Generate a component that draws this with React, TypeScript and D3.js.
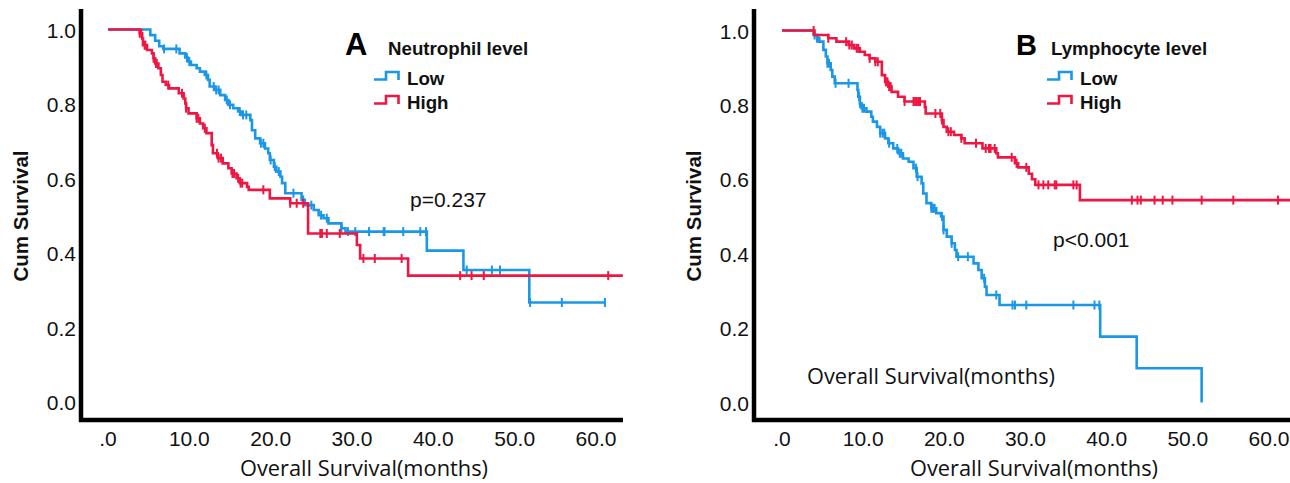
import React from "react";
import * as d3 from "d3";

// ---------- DATA ----------
const xTickValues = [0, 10, 20, 30, 40, 50, 60];
const xTickLabels = [".0", "10.0", "20.0", "30.0", "40.0", "50.0", "60.0"];
const yTickValues = [0, 0.2, 0.4, 0.6, 0.8, 1.0];
const yTickLabels = ["0.0", "0.2", "0.4", "0.6", "0.8", "1.0"];

// Panel A – Neutrophil level
const aLowTimes = [5.2, 5.8, 6.3, 6.8, 8.8, 9.5, 9.8, 10.2, 10.9, 11.3, 11.9, 12.3, 12.5, 13.1, 13.8, 14.4, 14.8, 15.4, 16.0, 16.4, 17.5, 17.7, 18.1, 18.7, 19.3, 19.7, 19.9, 20.4, 20.7, 21.2, 21.4, 21.8, 23.8, 24.2, 25.3, 25.9, 26.5, 27.1, 28.7, 29.2, 39.2, 43.7, 51.8];
const aLowSurv = [0.985, 0.97, 0.955, 0.948, 0.936, 0.925, 0.914, 0.905, 0.896, 0.887, 0.878, 0.865, 0.847, 0.838, 0.824, 0.811, 0.798, 0.789, 0.78, 0.771, 0.757, 0.73, 0.708, 0.695, 0.681, 0.668, 0.65, 0.632, 0.619, 0.605, 0.588, 0.561, 0.543, 0.529, 0.516, 0.502, 0.494, 0.48, 0.467, 0.458, 0.407, 0.355, 0.268];
const aLowEnd = 61.1;
const aLowCensor = [6.9, 8.4, 9.7, 10.0, 12.1, 13.0, 13.3, 13.6, 14.6, 15.0, 16.2, 16.6, 17.0, 18.8, 19.1, 20.0, 20.5, 21.0, 22.8, 24.0, 25.0, 26.2, 26.9, 28.7, 29.5, 30.4, 32.1, 33.9, 34.0, 36.3, 38.4, 39.1, 44.1, 47.2, 48.2, 51.9, 55.8, 61.1];

const aHighTimes = [3.9, 4.2, 4.3, 4.8, 5.4, 5.6, 5.8, 6.2, 6.5, 6.7, 7.1, 7.5, 8.7, 9.3, 9.5, 9.6, 9.9, 10.9, 11.3, 11.7, 12.1, 12.75, 12.9, 13.5, 14.1, 14.8, 15.2, 15.8, 16.2, 17.1, 17.3, 19.9, 22.4, 24.6, 30.6, 31.0, 36.9];
const aHighSurv = [0.99, 0.976, 0.958, 0.945, 0.936, 0.923, 0.909, 0.896, 0.878, 0.86, 0.851, 0.842, 0.829, 0.815, 0.802, 0.789, 0.775, 0.762, 0.748, 0.735, 0.722, 0.69, 0.668, 0.655, 0.641, 0.628, 0.614, 0.601, 0.588, 0.578, 0.57, 0.547, 0.534, 0.453, 0.422, 0.386, 0.34];
const aHighEnd = 63.3;
const aHighCensor = [3.9, 4.1, 4.5, 4.6, 5.6, 5.9, 6.0, 7.4, 9.1, 9.6, 10.9, 11.1, 11.9, 13.4, 13.6, 13.9, 15.3, 15.5, 16.0, 16.3, 16.5, 19.1, 22.4, 23.2, 24.0, 26.1, 26.3, 26.9, 28.5, 31.4, 32.8, 36.1, 43.3, 44.7, 46.2, 61.5];

// Panel B – Lymphocyte level
const bLowTimes = [3.9, 4.3, 4.6, 5.1, 5.4, 5.6, 6.0, 6.2, 6.5, 9.3, 9.4, 9.6, 9.8, 10.4, 11.0, 11.2, 11.7, 12.1, 12.7, 13.1, 13.7, 14.3, 14.9, 15.6, 16.2, 16.6, 17.2, 17.4, 17.8, 18.4, 19.0, 19.6, 19.9, 20.3, 20.9, 21.3, 21.5, 23.6, 24.2, 24.6, 25.0, 25.2, 26.8, 39.2, 43.7, 51.7];
const bLowSurv = [0.988, 0.979, 0.97, 0.948, 0.93, 0.912, 0.894, 0.876, 0.858, 0.84, 0.822, 0.804, 0.791, 0.782, 0.768, 0.755, 0.741, 0.724, 0.71, 0.697, 0.683, 0.67, 0.656, 0.647, 0.63, 0.607, 0.589, 0.562, 0.536, 0.522, 0.509, 0.5, 0.464, 0.446, 0.428, 0.41, 0.392, 0.374, 0.356, 0.334, 0.311, 0.289, 0.262, 0.177, 0.092, 0.0];
const bLowEnd = 51.7;
const bLowCensor = [4.0, 4.3, 4.5, 5.6, 5.8, 6.6, 8.2, 9.5, 9.6, 9.9, 10.1, 12.1, 12.4, 12.6, 13.2, 14.2, 14.5, 14.7, 16.5, 16.7, 18.4, 18.6, 18.8, 19.7, 19.9, 20.9, 21.7, 22.9, 24.9, 26.4, 28.4, 28.7, 30.1, 35.9, 38.5, 39.1];

const bHighTimes = [4.0, 5.7, 6.7, 8.2, 8.9, 9.6, 10.2, 10.8, 11.5, 12.3, 12.7, 13.1, 13.5, 14.3, 15.1, 17.6, 17.7, 19.7, 19.9, 20.3, 21.2, 22.1, 22.5, 24.7, 26.4, 26.6, 28.7, 29.1, 30.4, 30.8, 31.2, 36.7];
const bHighSurv = [0.988, 0.979, 0.97, 0.961, 0.952, 0.943, 0.934, 0.925, 0.916, 0.88, 0.862, 0.849, 0.835, 0.822, 0.809, 0.794, 0.777, 0.759, 0.741, 0.728, 0.719, 0.71, 0.697, 0.683, 0.67, 0.659, 0.643, 0.632, 0.615, 0.6, 0.585, 0.544];
const bHighEnd = 62.6;
const bHighCensor = [3.9, 5.7, 7.9, 8.3, 8.6, 9.2, 9.4, 10.8, 11.5, 11.8, 12.8, 13.0, 13.2, 13.4, 15.1, 16.2, 16.4, 16.6, 16.8, 17.0, 18.9, 19.5, 19.7, 20.5, 20.8, 22.1, 23.9, 25.1, 25.5, 25.7, 26.2, 28.3, 28.9, 30.1, 31.6, 32.2, 32.8, 33.6, 33.8, 35.9, 36.3, 43.1, 43.8, 44.2, 45.9, 46.9, 48.1, 51.7, 55.6, 61.1];

const groupNames = ["Low", "High"];
const BLUE = "#1a97e6";
const RED = "#ef1642";

type Curve = { times: number[]; surv: number[]; end: number; censor: number[]; color: string };

function stepValue(c: Curve, t: number) {
  const i = d3.bisectRight(c.times, t);
  return i === 0 ? 1 : c.surv[i - 1];
}

function Panel(props: {
  letter: string;
  title: string;
  pText: string;
  curves: Curve[];
  axisX: number;
  xRange: [number, number];
  yRange: [number, number];
  xAxisEnd: number;
  legendX: number;
  letterX: number;
  titleX: number;
  pX: number;
  pY: number;
  letterSize: number;
}) {
  const x = d3.scaleLinear().domain([0, 60]).range(props.xRange);
  const y = d3.scaleLinear().domain([0, 1]).range(props.yRange);
  const axisY = 420;
  const line = d3
    .line<[number, number]>()
    .x((d) => x(d[0]))
    .y((d) => y(d[1]))
    .curve(d3.curveStepAfter);
  const midX = (props.axisX + props.xAxisEnd) / 2;
  return (
    <g>
      {props.curves.map((c, ci) => {
        const pts: [number, number][] = [[0, 1]];
        c.times.forEach((t, i) => pts.push([t, c.surv[i]]));
        pts.push([c.end, c.surv[c.surv.length - 1]]);
        return (
          <g key={ci}>
            <path d={line(pts) || ""} fill="none" stroke={c.color} strokeWidth={2.6} />
            {c.censor.map((t, k) => (
              <line
                key={k}
                x1={x(t)}
                x2={x(t)}
                y1={y(stepValue(c, t)) - 4.5}
                y2={y(stepValue(c, t)) + 4.5}
                stroke={c.color}
                strokeWidth={2}
              />
            ))}
          </g>
        );
      })}
      <line x1={props.axisX} x2={props.axisX} y1={9} y2={422} stroke="#000" strokeWidth={4.5} />
      <line x1={props.axisX - 2} x2={props.xAxisEnd} y1={axisY} y2={axisY} stroke="#000" strokeWidth={4.5} />
      {yTickValues.map((v, i) => (
        <text
          key={i}
          x={props.axisX - 5}
          y={y(v) + 8}
          textAnchor="end"
          fontFamily="'Liberation Sans', Arial, sans-serif"
          fontSize={21}
          fill="#111"
        >
          {yTickLabels[i]}
        </text>
      ))}
      {xTickValues.map((v, i) => (
        <text
          key={i}
          x={x(v)}
          y={445.5}
          textAnchor="middle"
          fontFamily="'Liberation Sans', Arial, sans-serif"
          fontSize={21}
          fill="#111"
        >
          {xTickLabels[i]}
        </text>
      ))}
      <text
        transform={`translate(${props.axisX - 53},216) rotate(-90)`}
        textAnchor="middle"
        fontFamily="'Liberation Sans', Arial, sans-serif"
        fontWeight="bold"
        fontSize={20.5}
        fill="#111"
      >
        Cum Survival
      </text>
      <text
        x={midX + 12}
        y={476}
        textAnchor="middle"
        fontFamily="'Open Sans', sans-serif"
        fontSize={22}
        textLength={248}
        lengthAdjust="spacingAndGlyphs"
        fill="#111"
      >
        Overall Survival(months)
      </text>
      <text x={props.letterX} y={55} fontFamily="'Liberation Sans', Arial, sans-serif" fontWeight="bold" fontSize={props.letterSize} fill="#000">
        {props.letter}
      </text>
      <text x={props.titleX} y={55} fontFamily="'Liberation Sans', Arial, sans-serif" fontWeight="bold" fontSize={18.7} fill="#111">
        {props.title}
      </text>
      {props.curves.map((c, i) => {
        const by = 79.5 + i * 24;
        const lx = props.legendX;
        return (
          <g key={i}>
            <path
              d={`M${lx},${by} H${lx + 12} V${by - 7.5} H${lx + 24.5} V${by + 0.5}`}
              fill="none"
              stroke={c.color}
              strokeWidth={2.6}
            />
            <text x={lx + 33} y={by + 5.8} fontFamily="'Liberation Sans', Arial, sans-serif" fontWeight="bold" fontSize={18.7} fill="#111">
              {groupNames[i]}
            </text>
          </g>
        );
      })}
      <text x={props.pX} y={props.pY} fontFamily="'Liberation Sans', Arial, sans-serif" fontSize={21} fill="#111">
        {props.pText}
      </text>
    </g>
  );
}

export default function App() {
  const aCurves: Curve[] = [
    { times: aLowTimes, surv: aLowSurv, end: aLowEnd, censor: aLowCensor, color: BLUE },
    { times: aHighTimes, surv: aHighSurv, end: aHighEnd, censor: aHighCensor, color: RED },
  ];
  const bCurves: Curve[] = [
    { times: bLowTimes, surv: bLowSurv, end: bLowEnd, censor: bLowCensor, color: BLUE },
    { times: bHighTimes, surv: bHighSurv, end: bHighEnd, censor: bHighCensor, color: RED },
  ];
  return (
    <svg
      width={1290}
      height={483}
      style={{ position: "absolute", left: 0, top: 0, background: "#fff" }}
    >
      <rect width={1290} height={483} fill="#fff" />
      <Panel
        letter="A"
        title="Neutrophil level"
        pText="p=0.237"
        curves={aCurves}
        axisX={81}
        xRange={[108, 596]}
        yRange={[402.4, 29.5]}
        xAxisEnd={623}
        legendX={374}
        letterX={345}
        titleX={388}
        pX={410}
        pY={206.5}
        letterSize={31}
      />
      <Panel
        letter="B"
        title="Lymphocyte level"
        pText="p<0.001"
        curves={bCurves}
        axisX={754}
        xRange={[782, 1269]}
        yRange={[402.5, 30.5]}
        xAxisEnd={1290}
        legendX={1047}
        letterX={1016}
        titleX={1051}
        pX={1053}
        pY={247}
        letterSize={29}
      />
      <text
        x={807}
        y={384}
        fontFamily="'Open Sans', sans-serif"
        fontSize={22}
        textLength={248}
        lengthAdjust="spacingAndGlyphs"
        fill="#111"
      >
        Overall Survival(months)
      </text>
    </svg>
  );
}
